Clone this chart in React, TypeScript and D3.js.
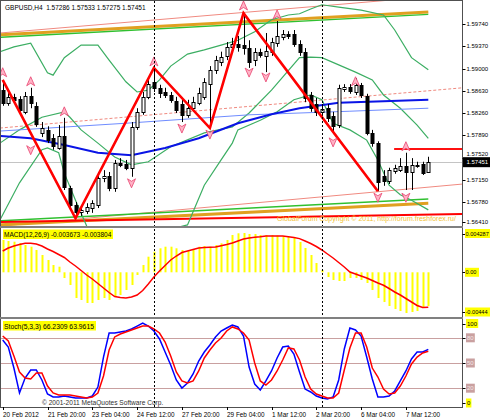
import React from "react";
import * as d3 from "d3";

// ---------------- data ----------------
const symbolTitle = "GBPUSD,H4";
const timeLabels = ["20 Feb 2012", "21 Feb 20:00", "23 Feb 04:00", "24 Feb 12:00", "27 Feb 20:00", "29 Feb 04:00", "1 Mar 12:00", "2 Mar 20:00", "6 Mar 04:00", "7 Mar 12:00"];
const timeLabelBars = [0, 8, 16, 24, 32, 40, 48, 56, 64, 72];
const weekStartBars = [27, 57];
const priceTicks = [1.5974, 1.5937, 1.59, 1.5863, 1.5826, 1.5789, 1.5752, 1.5715, 1.5678, 1.5641];
const macdTicks = [0.004287, 0, -0.00444];
const macdTickLabels = ["0.004287", "0.00", "-0.00444"];
const stochTicks = [100, 80, 50, 20, 0];
const stochLevels = [80, 50, 20];

const opens = [
  1.5864, 1.5843, 1.5853, 1.5849, 1.5828, 1.5854, 1.5838, 1.5793, 1.5798, 1.5784,
  1.5768, 1.5788, 1.5701, 1.5673, 1.5661, 1.5663, 1.5668, 1.5673, 1.5718, 1.5721,
  1.5701, 1.5743, 1.5741, 1.5735, 1.5803, 1.5828, 1.5853, 1.5878, 1.5868, 1.5861,
  1.5856, 1.5846, 1.5841, 1.5823, 1.5834, 1.5843, 1.5853, 1.5874, 1.5898, 1.5911,
  1.5921, 1.5936, 1.5941, 1.5939, 1.5934, 1.5914, 1.5928, 1.5921, 1.5928, 1.5942,
  1.5952, 1.5957, 1.5957, 1.5941, 1.5928, 1.5856, 1.5841, 1.5828, 1.5834, 1.5821,
  1.5806, 1.5866, 1.5869, 1.5861, 1.5873, 1.5854, 1.5793, 1.5776, 1.5721, 1.5713,
  1.573, 1.5731, 1.5738, 1.5728, 1.5738, 1.5741, 1.57286,
];
const highs = [
  1.5881, 1.5859, 1.5858, 1.5854, 1.5861, 1.5868, 1.5844, 1.5811, 1.5804, 1.5791,
  1.5806, 1.5818, 1.5705, 1.5678, 1.5673, 1.5676, 1.5681, 1.5728, 1.5731, 1.5728,
  1.5748, 1.5751, 1.5748, 1.5811, 1.5834, 1.5861, 1.5881, 1.5901, 1.5873, 1.5868,
  1.5861, 1.5853, 1.5848, 1.5848, 1.5853, 1.5868, 1.5884, 1.5904, 1.5921, 1.5928,
  1.5944, 1.5951, 1.5954, 1.5992, 1.5947, 1.5934, 1.5933, 1.5959, 1.5951, 1.5979,
  1.5964, 1.5962, 1.5964, 1.5947, 1.5934, 1.5861, 1.5851, 1.5841, 1.5841, 1.5828,
  1.5873, 1.5874, 1.5874, 1.5884, 1.5876, 1.5858, 1.5798, 1.5779, 1.5731, 1.5735,
  1.574, 1.5751, 1.576, 1.5751, 1.5745, 1.5745, 1.57533,
];
const lows = [
  1.5838, 1.5838, 1.5841, 1.5828, 1.5824, 1.5834, 1.5803, 1.5786, 1.5776, 1.5765,
  1.5765, 1.5698, 1.5668, 1.5651, 1.5655, 1.5658, 1.566, 1.5668, 1.5711, 1.5696,
  1.5695, 1.5736, 1.5731, 1.572, 1.5798, 1.5823, 1.5849, 1.5861, 1.5851, 1.5851,
  1.5843, 1.5826, 1.5811, 1.5818, 1.5828, 1.5839, 1.5848, 1.5801, 1.5891, 1.5904,
  1.5914, 1.5931, 1.5928, 1.5923, 1.5901, 1.5904, 1.5918, 1.5894, 1.5921, 1.5936,
  1.5947, 1.5949, 1.5936, 1.5921, 1.5844, 1.5828, 1.5821, 1.5818, 1.5811, 1.5791,
  1.5801, 1.5861, 1.5858, 1.5856, 1.5851, 1.5789, 1.577, 1.5696, 1.5705, 1.5708,
  1.5725, 1.5728, 1.5698, 1.5698, 1.5735, 1.5723, 1.57275,
];
const closes = [
  1.5843, 1.5853, 1.5848, 1.5831, 1.5854, 1.5843, 1.5808, 1.5801, 1.5781, 1.577,
  1.5788, 1.5703, 1.5673, 1.5661, 1.5665, 1.567, 1.5676, 1.5718, 1.5721, 1.5701,
  1.5743, 1.574, 1.5735, 1.5803, 1.5828, 1.5853, 1.5874, 1.5868, 1.5859, 1.5856,
  1.5848, 1.5831, 1.5823, 1.5834, 1.5844, 1.5859, 1.5878, 1.5898, 1.5914, 1.5919,
  1.5936, 1.5941, 1.5936, 1.5934, 1.5911, 1.5928, 1.5923, 1.5929, 1.5944, 1.5954,
  1.5957, 1.5954, 1.5941, 1.5928, 1.5851, 1.5834, 1.5828, 1.5833, 1.5818, 1.5804,
  1.5868, 1.5869, 1.5863, 1.5873, 1.5856, 1.5793, 1.5776, 1.5711, 1.5713, 1.5731,
  1.5735, 1.5738, 1.5728, 1.574, 1.574, 1.5726, 1.57451,
];

// zigzag pivots [bar, price]
const zigzag: [number, number][] = [[0, 1.5881], [13, 1.5651], [27, 1.5901], [37, 1.5801], [43, 1.5992], [67, 1.5696]];

// Bollinger bands (20) [bar, price]
const bbUpper: [number, number][] = [
  [-0.5, 1.5928], [2, 1.5936], [5, 1.5942], [8, 1.5893], [9, 1.5889], [11, 1.5918], [14, 1.5939], [17, 1.5939],
  [19, 1.5914], [22, 1.5878], [24, 1.5861], [26, 1.5864], [28, 1.5881], [30, 1.5904], [33, 1.5924], [36, 1.5931],
  [39, 1.5939], [42, 1.5947], [45, 1.5961], [48, 1.5981], [51, 1.5989], [53, 1.5991], [55, 1.5999], [57, 1.6006],
  [60, 1.6002], [64, 1.5997], [68, 1.5989], [70, 1.5964], [73, 1.5918], [76, 1.5898],
];
const bbMiddle: [number, number][] = [
  [-0.5, 1.5776], [3, 1.5798], [7, 1.5819], [11, 1.5828], [12, 1.5819], [14, 1.5798], [17, 1.5776], [20, 1.5753],
  [23, 1.574], [26, 1.5745], [30, 1.577], [36, 1.5793], [41, 1.5803], [44, 1.5826], [48, 1.5864], [53, 1.5918],
  [55, 1.5919], [57, 1.5918], [60, 1.5906], [63, 1.5894], [66, 1.5881], [68, 1.5856], [71, 1.5834], [74, 1.5806],
  [76, 1.5784],
];
const bbLower: [number, number][] = [
  [-0.5, 1.5648], [3, 1.571], [7, 1.5765], [8, 1.5768], [10, 1.576], [11, 1.5726], [13, 1.5681], [15, 1.5638],
  [17, 1.5622], [22, 1.5618], [26, 1.5628], [30, 1.5633], [33, 1.564], [36, 1.5706], [39, 1.5748], [41, 1.5776],
  [42, 1.5798], [46, 1.5814], [49, 1.5828], [52, 1.5848], [55, 1.5856], [57, 1.5848], [59, 1.5809], [62, 1.5798],
  [65, 1.5781], [67, 1.5748], [69, 1.5706], [71, 1.569], [73, 1.5681], [76, 1.5665],
];
// moving averages [bar, price]
const maBlue: [number, number][] = [
  [-0.5, 1.5788], [5, 1.5784], [11, 1.5773], [17, 1.576], [23, 1.5756], [29, 1.5768], [35, 1.5784], [42, 1.5809],
  [48, 1.5824], [53, 1.5834], [60, 1.5843], [76, 1.5848],
];
const maLightBlue: [number, number][] = [[-0.5, 1.5796], [22, 1.5809], [44, 1.5823], [62, 1.5829], [76, 1.5834]];

// trend / channel lines [bar, price] endpoints
const salmonTop: [number, number][] = [[-0.5, 1.5959], [82.2, 1.6024]];
const orangeTop: [number, number][] = [[-0.5, 1.5956], [76, 1.5994]];
const greenTop: [number, number][] = [[-0.5, 1.5952], [76, 1.599]];
const salmonMid: [number, number][] = [[-0.5, 1.5801], [82.2, 1.5868]];
const salmonBottom: [number, number][] = [[-0.5, 1.5638], [82.2, 1.5708]];
const orangeBottom: [number, number][] = [[-0.5, 1.564], [76, 1.5676]];
const greenBottom: [number, number][] = [[-0.5, 1.5647], [76, 1.5683]];
const redBottom: [number, number][] = [[-0.5, 1.5645], [82.2, 1.5658]];
const redLevel: [number, number][] = [[69.9, 1.5766], [82.2, 1.5766]];

// fractal arrows [bar, price]
const fractalUp: [number, number][] = [[0, 1.5893], [5, 1.5878], [11, 1.5828], [27, 1.5911], [43, 1.6004], [49, 1.5989], [63, 1.5878], [72, 1.577]];
const fractalDown: [number, number][] = [[5, 1.5765], [23, 1.571], [32, 1.5801], [37, 1.5791], [44, 1.5894], [47, 1.5886], [59, 1.5778], [67, 1.5686], [72, 1.5686]];

const macdMain = [
  0.003524, 0.003414, 0.003338, 0.003196, 0.002978, 0.002793, 0.002433, 0.001887, 0.001342, 0.000796,
  0.000611, -0.000622, -0.001385, -0.002804, -0.003022, -0.003349, -0.003349, -0.003022, -0.002804, -0.003022,
  -0.002694, -0.002476, -0.001931, -0.001385, -0.000295, 0.000796, 0.001702, 0.002247, 0.002618, 0.002793,
  0.002793, 0.002618, 0.002433, 0.002356, 0.002509, 0.002793, 0.002869, 0.002793, 0.002978, 0.003164,
  0.003524, 0.004069, 0.004254, 0.004287, 0.004178, 0.004178, 0.004069, 0.004069, 0.004069, 0.004014,
  0.00396, 0.003851, 0.003742, 0.003305, 0.002651, 0.001887, 0.001015, 0.000251, -0.000513, -0.00084,
  -0.000949, -0.000949, -0.000622, -0.000622, -0.00084, -0.001167, -0.001931, -0.002804, -0.00324, -0.003676,
  -0.004004, -0.004222, -0.00444, -0.004331, -0.004222, -0.003894, -0.003673,
];
const macdSignal = [
  0.002324, 0.002651, 0.002869, 0.003033, 0.003164, 0.003164, 0.003087, 0.002869, 0.002542, 0.002269,
  0.001942, 0.001615, 0.001124, 0.000687, 0.000196, -0.000295, -0.000731, -0.001222, -0.001713, -0.002204,
  -0.00264, -0.002749, -0.002804, -0.002694, -0.002476, -0.001985, -0.001276, -0.000513, 0.000142, 0.000742,
  0.001342, 0.001778, 0.00216, 0.002324, 0.002487, 0.002651, 0.002705, 0.002738, 0.00276, 0.002902,
  0.003033, 0.003196, 0.003414, 0.003633, 0.003742, 0.003829, 0.003884, 0.00396, 0.00396, 0.00396,
  0.00396, 0.003884, 0.003785, 0.003676, 0.003414, 0.003142, 0.002814, 0.002433, 0.001996, 0.00156,
  0.001069, 0.000578, 0.000033, -0.000185, -0.000404, -0.000622, -0.000895, -0.001167, -0.001418, -0.001767,
  -0.002149, -0.002476, -0.002858, -0.00324, -0.003622, -0.00384, -0.003804,
];
const stochMain = [
  77.4, 69.0, 44.0, 14.3, 32.1, 41.7, 41.7, 29.8, 13.1, 9.5,
  9.5, 10.7, 9.5, 8.3, 8.3, 8.3, 10.7, 21.4, 57.1, 85.7,
  85.7, 86.9, 88.1, 90.5, 94.0, 97.6, 94.0, 88.1, 78.6, 63.1,
  47.6, 29.8, 20.2, 26.2, 36.9, 52.4, 63.1, 71.4, 81.0, 88.1,
  91.7, 95.2, 92.9, 82.1, 45.2, 25.0, 17.9, 28.6, 40.5, 56.0,
  69.0, 70.2, 60.7, 39.3, 19.0, 15.5, 10.7, 8.3, 7.1, 9.5,
  29.8, 66.7, 91.7, 89.3, 82.1, 57.1, 31.0, 9.5, 9.5, 10.7,
  16.7, 28.6, 40.5, 54.8, 63.1, 63.1, 66.2309,
];
const stochSignal = [
  82.1, 76.2, 58.3, 39.3, 32.1, 31.0, 38.1, 38.1, 22.6, 14.3,
  11.9, 11.9, 11.9, 10.7, 9.5, 8.3, 9.5, 14.3, 34.5, 65.5,
  81.0, 84.5, 86.9, 89.3, 91.7, 94.0, 94.0, 90.5, 85.7, 75.0,
  58.3, 39.3, 28.6, 26.2, 28.6, 40.5, 56.0, 65.5, 73.8, 79.8,
  88.1, 92.9, 90.5, 85.7, 77.4, 50.0, 28.6, 23.8, 29.8, 40.5,
  53.6, 67.9, 66.7, 53.6, 33.3, 19.0, 13.1, 10.7, 8.3, 8.3,
  14.3, 41.7, 67.9, 85.7, 85.7, 69.0, 44.0, 33.3, 19.0, 13.1,
  14.3, 22.6, 34.5, 48.8, 57.1, 61.9, 63.9615,
];

const copyrightText = "\u00A9 2001-2011 MetaQuotes Software Corp.";
const forumText = "GlobalForum Copyright \u00A9 2011, http://forum.freshforex.ru/";

// ---------------- layout ----------------
const W = 490;
const H = 420;
const R = 462; // right edge of plotting area
const MAIN = { top: 1, bottom: 226 };
const MACD = { top: 228, bottom: 317 };
const STO = { top: 319, bottom: 407 };
const FONT = "'Liberation Sans', Arial, sans-serif";

export default function App() {
  const n = closes.length;
  const xS = d3.scaleLinear().domain([0, n - 1]).range([2.7, 428.3]);
  const yP = d3.scaleLinear().domain([1.5641, 1.5974]).range([224.3, 24]);
  const yM = d3.scaleLinear().domain([-0.00444, 0.004287]).range([313, 233]);
  const yS = d3.scaleLinear().domain([0, 100]).range([405, 321]);

  const pLine = d3.line<[number, number]>().x((d) => xS(d[0])).y((d) => yP(d[1]));
  const macdLine = d3.line<number>().x((_, i) => xS(i)).y((d) => yM(d));
  const stoLine = d3.line<number>().x((_, i) => xS(i)).y((d) => yS(d));

  const mainLines: { d: [number, number][]; c: string; w: number; dash?: string }[] = [
    { d: salmonTop, c: "#f08a80", w: 1 },
    { d: salmonMid, c: "#f08a80", w: 1, dash: "3,2" },
    { d: salmonBottom, c: "#f08a80", w: 1 },
    { d: orangeTop, c: "#e0a020", w: 3 },
    { d: greenTop, c: "#30c030", w: 1.5 },
    { d: orangeBottom, c: "#e0a020", w: 3 },
    { d: greenBottom, c: "#30c030", w: 1.5 },
    { d: redBottom, c: "#ff0000", w: 2 },
    { d: bbUpper, c: "#3cae63", w: 1.2 },
    { d: bbMiddle, c: "#3cae63", w: 1.2 },
    { d: bbLower, c: "#3cae63", w: 1.2 },
    { d: maLightBlue, c: "#6f8cff", w: 1 },
    { d: maBlue, c: "#0a14e6", w: 2 },
  ];

  const txt = (s: string, x: number, y: number, size: number, fill: string) => (
    <text x={x} y={y} fontSize={size} fill={fill} style={{ whiteSpace: "pre" }}>
      {s}
    </text>
  );

  const lastClose = closes[n - 1];
  const header = `${symbolTitle}  ${opens[n - 1].toFixed(5)} ${highs[n - 1].toFixed(5)} ${lows[n - 1].toFixed(5)} ${closes[n - 1].toFixed(5)}`;
  const macdLabel = `MACD(12,26,9) ${macdMain[n - 1].toFixed(6)} ${macdSignal[n - 1].toFixed(6)}`;
  const stochLabel = `Stoch(5,3,3) ${stochMain[n - 1].toFixed(4)} ${stochSignal[n - 1].toFixed(4)}`;
  const yLast = yP(lastClose);

  return (
    <svg width={W} height={H} style={{ position: "absolute", left: 0, top: 0, display: "block", background: "#fff" }} fontFamily={FONT}>
      <defs>
        <clipPath id="cMain"><rect x={1} y={MAIN.top} width={R - 1} height={MAIN.bottom - MAIN.top} /></clipPath>
        <clipPath id="cMacd"><rect x={1} y={MACD.top} width={R - 1} height={MACD.bottom - MACD.top} /></clipPath>
        <clipPath id="cSto"><rect x={1} y={STO.top} width={R - 1} height={STO.bottom - STO.top} /></clipPath>
      </defs>
      <rect x={0} y={0} width={W} height={H} fill="#ffffff" />

      {/* ---------- main panel ---------- */}
      <g clipPath="url(#cMain)">
        <line x1={1} x2={R} y1={Math.round(yLast) + 0.5} y2={Math.round(yLast) + 0.5} stroke="#c4c4c4" />
        {mainLines.map((l, k) => (
          <path key={k} d={pLine(l.d) || ""} fill="none" stroke={l.c} strokeWidth={l.w} strokeDasharray={l.dash} />
        ))}
        {closes.map((c, i) => {
          const cx = Math.round(xS(i)) + 0.5;
          const yo = yP(opens[i]);
          const yc = yP(c);
          const up = c >= opens[i];
          const top = Math.round(Math.min(yo, yc)) + 0.5;
          const h = Math.max(1, Math.round(Math.abs(yo - yc)));
          return (
            <g key={i}>
              <line x1={cx} x2={cx} y1={yP(highs[i])} y2={yP(lows[i])} stroke="#000" strokeWidth={1} />
              <rect x={cx - 1.5} y={top} width={3} height={h} fill={up ? "#fff" : "#000"} stroke="#000" strokeWidth={1} />
            </g>
          );
        })}
        <path d={pLine(zigzag) || ""} fill="none" stroke="#ff0000" strokeWidth={2.6} strokeLinejoin="miter" />
        <path d={pLine(redLevel) || ""} fill="none" stroke="#ff1010" strokeWidth={2} />
        {fractalUp.map(([b, p], k) => {
          const x = xS(b), y = yP(p);
          return <path key={"u" + k} d={`M${x},${y - 5}L${x + 4},${y + 4}L${x},${y + 1.5}L${x - 4},${y + 4}Z`} fill="#ffb3c6" stroke="#e8436e" strokeWidth={0.8} />;
        })}
        {fractalDown.map(([b, p], k) => {
          const x = xS(b), y = yP(p);
          return <path key={"d" + k} d={`M${x},${y + 5}L${x + 4},${y - 4}L${x},${y - 1.5}L${x - 4},${y - 4}Z`} fill="#ffb3c6" stroke="#e8436e" strokeWidth={0.8} />;
        })}
        {txt(forumText, 277, 221, 7, "#f2c234")}
      </g>
      {txt(header, 5, 10, 6.5, "#000")}

      {/* ---------- MACD panel ---------- */}
      <g clipPath="url(#cMacd)">
        {macdMain.map((v, i) => {
          const x = Math.round(xS(i)) - 0.5;
          const y0 = yM(0), y1 = yM(v);
          return <rect key={i} x={x} y={Math.min(y0, y1)} width={2} height={Math.abs(y1 - y0)} fill="#ffff00" />;
        })}
        <path d={macdLine(macdSignal) || ""} fill="none" stroke="#ff0000" strokeWidth={1.5} />
      </g>
      <rect x={3} y={229.5} width={110} height={9.5} fill="#ffff00" />
      {txt(macdLabel, 4, 237, 6.5, "#000")}

      {/* ---------- Stochastic panel ---------- */}
      <g clipPath="url(#cSto)">
        {stochLevels.map((lv) => (
          <line key={lv} x1={1} x2={R} y1={Math.round(yS(lv)) + 0.5} y2={Math.round(yS(lv)) + 0.5} stroke="#c9a0a0" strokeWidth={1} />
        ))}
        <path d={stoLine(stochMain) || ""} fill="none" stroke="#0000ff" strokeWidth={1.5} />
        <path d={stoLine(stochSignal) || ""} fill="none" stroke="#ff0000" strokeWidth={1.5} />
        {txt(copyrightText, 42, 405, 6.6, "#303030")}
      </g>
      <rect x={3} y={321} width={93} height={9.5} fill="#ffff00" />
      {txt(stochLabel, 4, 328.5, 6.8, "#000")}

      {/* week separators */}
      {weekStartBars.map((b) => (
        <line key={b} x1={Math.round(xS(b)) + 0.5} x2={Math.round(xS(b)) + 0.5} y1={MAIN.top} y2={STO.bottom} stroke="#000" strokeDasharray="2,2" strokeWidth={1} />
      ))}

      {/* panel frames */}
      {[MAIN, MACD, STO].map((p, k) => (
        <rect key={k} x={0.5} y={p.top + 0.5 - 1} width={R} height={p.bottom - p.top + 1} fill="none" stroke="#505050" strokeWidth={1} />
      ))}
      <line x1={0} x2={R + 1} y1={227} y2={227} stroke="#b0b0b0" strokeWidth={1} />
      <line x1={0} x2={R + 1} y1={318} y2={318} stroke="#b0b0b0" strokeWidth={1} />

      {/* price axis */}
      {priceTicks.map((p) => {
        const y = Math.min(yP(p), MAIN.bottom - 4);
        const ty = Math.abs(y - yLast) < 7 ? yLast - 6 : y + 2.2;
        return (
          <g key={p}>
            <line x1={R + 0.5} x2={R + 3.5} y1={Math.round(y) + 0.5} y2={Math.round(y) + 0.5} stroke="#000" />
            {txt(p.toFixed(5), 466.5, ty, 6, "#000")}
          </g>
        );
      })}
      <rect x={R + 1} y={yLast - 4.5} width={W - R - 1} height={10} fill="#000" />
      {txt(lastClose.toFixed(5), 466.5, yLast + 2.7, 6, "#fff")}

      {/* MACD axis */}
      {macdTicks.map((v, k) => {
        const y = Math.min(Math.max(yM(v), MACD.top + 5.5), MACD.bottom - 5);
        const s = macdTickLabels[k];
        return (
          <g key={k}>
            <line x1={R + 0.5} x2={R + 3.5} y1={Math.round(y) + 0.5} y2={Math.round(y) + 0.5} stroke="#000" />
            <rect x={465} y={y - 4.5} width={25} height={9} fill="#ffff00" style={{ display: s.length > 4 ? "block" : "none" }} />
            <rect x={465} y={y - 4.5} width={14} height={9} fill="#ffff00" style={{ display: s.length > 4 ? "none" : "block" }} />
            {txt(s, 465.5, y + 2.2, 5.6, "#000")}
          </g>
        );
      })}

      {/* Stoch axis */}
      {stochTicks.map((v) => {
        const y = Math.min(Math.max(yS(v), STO.top + 4.5), STO.bottom - 4);
        const s = String(v);
        const lvl = stochLevels.includes(v);
        return (
          <g key={v}>
            <line x1={R + 0.5} x2={R + 3.5} y1={Math.round(y) + 0.5} y2={Math.round(y) + 0.5} stroke="#000" />
            <rect x={466} y={y - 4.5} width={s.length * 3.4 + 2} height={9} fill={lvl ? "#c9a0a0" : "#ffff00"} />
            {txt(s, 467, y + 2.2, 6, lvl ? "#f4e8e8" : "#000")}
          </g>
        );
      })}

      {/* time axis */}
      {timeLabelBars.map((b, k) => {
        const x = Math.round(xS(b)) + 0.5;
        return (
          <g key={b}>
            <line x1={x} x2={x} y1={STO.bottom} y2={STO.bottom + 3} stroke="#000" />
            {txt(timeLabels[k], x - 0.5, 416.5, 6.4, "#000")}
          </g>
        );
      })}
    </svg>
  );
}
